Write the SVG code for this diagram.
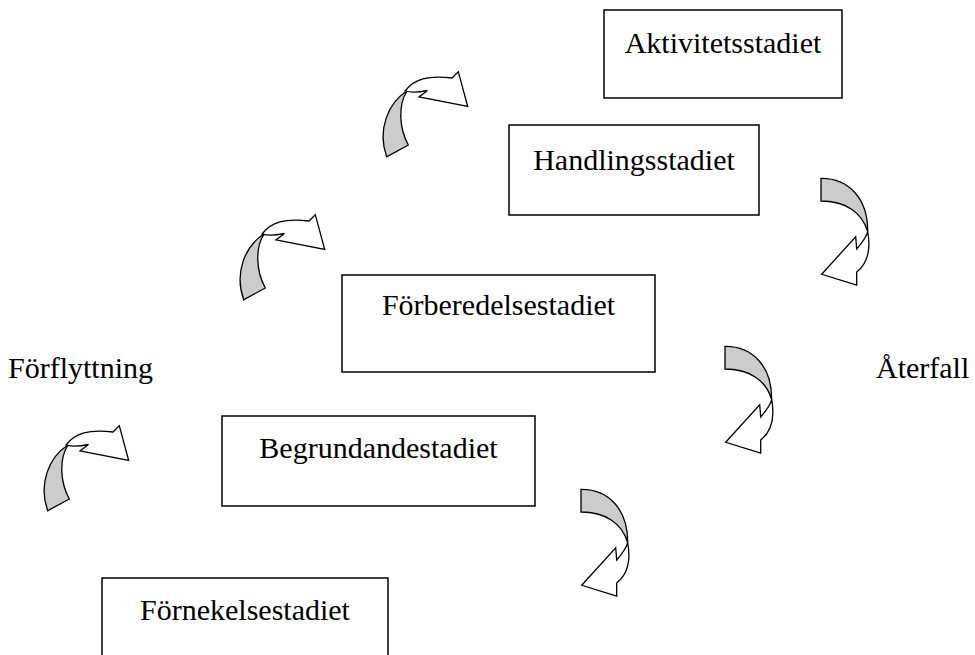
<svg xmlns="http://www.w3.org/2000/svg" xmlns:xlink="http://www.w3.org/1999/xlink" width="975" height="655" viewBox="0 0 975 655">
<style>
.box{fill:#fff;stroke:#000;stroke-width:1.5}
.lbl{font-family:"Liberation Serif","Times New Roman",serif;font-size:30px;fill:#000}
.mid{text-anchor:middle}
.w{fill:#fff;stroke:#000;stroke-width:1.3;stroke-linejoin:miter}
.g{fill:#cccccc;stroke:#000;stroke-width:1.3}
</style>
<defs>
<g id="upArrow">
<path class="w" d="M405,91 C414,79 428,75 452,78 L458.3,71.7 L467.7,106.5 L419,97 L427.5,90.5 C420,92 412,93 405,91 Z"/>
<path class="g" d="M407,91 C388,103 377,130 386.7,156.7 L408.3,145 C399,128 398,105 407,91 Z"/>
</g>
<g id="downArrow">
<path class="w" d="M867.7,231.7 C871,250 867,264 856.7,272 L856.7,285 L821.7,274.3 L855.7,236.7 L856.7,249 C862,243 866,238 867.7,231.7 Z"/>
<path class="g" d="M821,178.3 C848,178 868,198 867.7,231.7 C862,212 845,201 821,201 Z"/>
</g>
</defs>
<g id="connectors">
<use xlink:href="#upArrow"/>
<use xlink:href="#upArrow" transform="translate(-143,143)"/>
<use xlink:href="#upArrow" transform="translate(-339,354)"/>
<use xlink:href="#downArrow"/>
<use xlink:href="#downArrow" transform="translate(-96,168)"/>
<use xlink:href="#downArrow" transform="translate(-240,311)"/>
</g>
<g id="aktivitet">
<rect class="box" x="604" y="10" width="238" height="88"/>
<text class="lbl mid" x="723" y="53">Aktivitetsstadiet</text>
</g>
<g id="handling">
<rect class="box" x="509" y="125" width="250" height="90"/>
<text class="lbl mid" x="634" y="170">Handlingsstadiet</text>
</g>
<g id="forberedelse">
<rect class="box" x="342" y="275" width="313" height="97"/>
<text class="lbl mid" x="498.5" y="315">Förberedelsestadiet</text>
</g>
<g id="begrundande">
<rect class="box" x="222" y="416" width="313" height="90"/>
<text class="lbl mid" x="378.5" y="458">Begrundandestadiet</text>
</g>
<g id="fornekelse">
<rect class="box" x="102" y="578" width="286" height="90"/>
<text class="lbl mid" x="245" y="620">Förnekelsestadiet</text>
</g>
<g id="forflyttning">
<text class="lbl" x="8" y="378">Förflyttning</text>
</g>
<g id="aterfall">
<text class="lbl" x="876" y="378">Återfall</text>
</g>
</svg>
